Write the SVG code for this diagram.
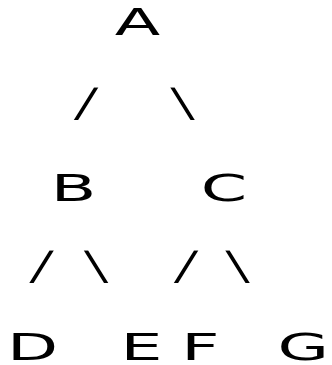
<svg xmlns="http://www.w3.org/2000/svg" width="332" height="365" viewBox="0 0 332 365">
<style>
.t{font-family:"DejaVu Sans",sans-serif;font-size:38px;fill:#000;text-anchor:middle}
.s{font-family:"DejaVu Sans",sans-serif;font-size:41px;fill:#000;stroke:#fff;stroke-width:1.1px;text-anchor:middle}
</style>
<rect width="332" height="365" fill="#fff"/>
<g id="connectors" transform="scale(2,1)">
<text class="s" x="43" y="116.8">/</text>
<text class="s" x="91.25" y="116.8">\</text>
<text class="s" x="20.75" y="279.8">/</text>
<text class="s" x="48" y="279.8">\</text>
<text class="s" x="93" y="279.8">/</text>
<text class="s" x="118.75" y="279.8">\</text>
</g>
<g transform="scale(1.75,1)">
<g id="node-A"><text class="t" x="78.6" y="35">A</text></g>
<g id="node-B"><text class="t" x="42.0" y="201">B</text></g>
<g id="node-C"><text class="t" x="128.0" y="201">C</text></g>
<g id="node-D"><text class="t" x="18.6" y="360">D</text></g>
<g id="node-E"><text class="t" x="80.8" y="360">E</text></g>
<g id="node-F"><text class="t" x="114.5" y="360">F</text></g>
<g id="node-G"><text class="t" x="173.3" y="360">G</text></g>
</g>
</svg>
